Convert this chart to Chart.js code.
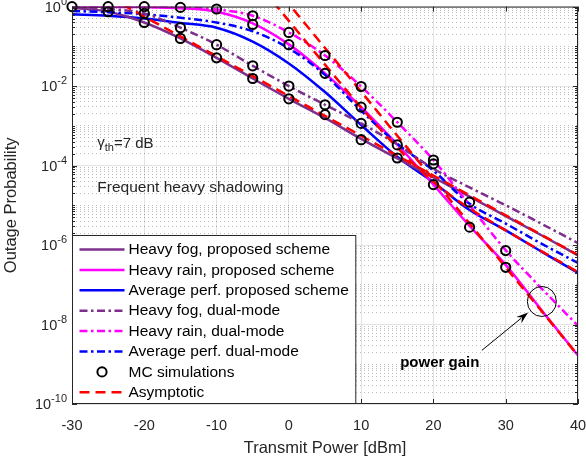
<!DOCTYPE html>
<html><head><meta charset="utf-8">
<script src="https://cdn.jsdelivr.net/npm/chart.js@4.4.1/dist/chart.umd.min.js"></script>
<style>html,body{margin:0;padding:0;background:#fff;}#wrap{width:586px;height:461px;}</style>
</head><body><div id="wrap"><canvas id="c" width="586" height="461"></canvas></div>
<script>
// ---------------- data ----------------
const power = [-30, -25, -20, -15, -10, -5, 0, 5, 10, 15, 20, 25, 30, 35, 40];
const fogProposed  = [0.933, 0.741, 0.398, 0.158, 5.13e-2, 1.55e-2, 4.79e-3, 1.58e-3, 4.68e-4, 1.51e-4, 5.01e-5, 1.66e-5, 5.37e-6, 1.74e-6, 5.50e-7];
const rainProposed = [0.993, 0.986, 0.973, 0.912, 0.741, 0.380, 0.112, 2.09e-2, 2.95e-3, 3.39e-4, 3.31e-5, 3.02e-6, 3.16e-7, 2.24e-8, 1.66e-9];
const avgProposed  = [0.646, 0.589, 0.501, 0.389, 0.295, 0.132, 3.72e-2, 7.08e-3, 1.05e-3, 1.66e-4, 3.80e-5, 7.59e-6, 2.34e-6, 6.76e-7, 2.00e-7];
const fogDual      = [0.955, 0.871, 0.676, 0.295, 0.110, 3.24e-2, 1.00e-2, 3.39e-3, 1.15e-3, 3.39e-4, 8.32e-5, 2.82e-5, 1.00e-5, 3.39e-6, 1.12e-6];
const rainDual     = [0.995, 0.993, 0.986, 0.955, 0.851, 0.589, 0.224, 5.89e-2, 9.77e-3, 1.23e-3, 1.38e-4, 1.00e-5, 7.41e-7, 7.94e-8, 9.33e-9];
const avgDual      = [0.776, 0.724, 0.646, 0.525, 0.398, 0.240, 8.91e-2, 1.91e-2, 2.40e-3, 3.55e-4, 7.41e-5, 1.10e-5, 3.47e-6, 1.07e-6, 3.55e-7];

const mcPower  = [-30, -25, -25, -20, -20, -20, -15, -15, -15, -10, -10, -10, -5, -5, -5, -5, 0, 0, 0, 0, 5, 5, 5, 5, 10, 10, 10, 10, 15, 15, 15, 20, 20, 20, 25, 25, 30, 30];
const mcOutage = [1.0, 1.0, 0.741, 1.0, 0.676, 0.398, 0.955, 0.295, 0.158, 0.871, 0.110, 5.13e-2, 0.589, 0.355, 3.24e-2, 1.55e-2, 0.224, 0.110, 1.00e-2, 4.79e-3, 5.89e-2, 2.09e-2, 3.39e-3, 1.91e-3, 9.77e-3, 2.95e-3, 1.15e-3, 4.47e-4, 1.23e-3, 3.31e-4, 1.55e-4, 1.38e-4, 1.10e-4, 3.31e-5, 1.20e-5, 2.82e-6, 7.24e-7, 2.75e-7];

const fogAsymPower = [-25, -20, -15, -10, -5, 0, 5, 10, 15, 20, 25, 30, 35, 40];
const fogAsym      = [1.78, 0.562, 0.178, 5.62e-2, 1.78e-2, 5.62e-3, 1.78e-3, 5.62e-4, 1.78e-4, 5.62e-5, 1.78e-5, 5.62e-6, 1.78e-6, 5.62e-7];
const rainAsymPower = [-5, 0, 5, 10, 15, 20, 25, 30, 35, 40];
const rainAsym      = [14.8, 1.17, 9.12e-2, 7.24e-3, 5.62e-4, 4.47e-5, 3.47e-6, 2.75e-7, 2.14e-8, 1.66e-9];
const avgAsymPower = [-5, 0, 5, 10, 12.5, 15, 17.5, 20, 22.5, 25, 27.5, 30, 35, 40];
const avgAsym      = [5.5, 0.437, 3.47e-2, 2.88e-3, 8.8e-4, 2.82e-4, 9.9e-5, 3.89e-5, 1.72e-5, 8.32e-6, 4.36e-6, 2.34e-6, 6.92e-7, 2.09e-7];

const xTickValues = [-30, -20, -10, 0, 10, 20, 30, 40];
const yLabelExponents = [0, -2, -4, -6, -8, -10];
const legendLabels = ['Heavy fog, proposed scheme', 'Heavy rain, proposed scheme', 'Average perf. proposed scheme',
  'Heavy fog, dual-mode', 'Heavy rain, dual-mode', 'Average perf. dual-mode', 'MC simulations', 'Asymptotic'];

// ---------------- helpers ----------------
const FONT = "'Liberation Sans', Arial, Helvetica, sans-serif";
Chart.defaults.font.family = FONT;
Chart.defaults.color = '#262626';
const expOf = v => Math.round(Math.log10(v));
const isDecade = v => Math.abs(Math.log10(v) - expOf(v)) < 1e-9;
const isLabeled = v => isDecade(v) && yLabelExponents.includes(expOf(v));
const yTickValues = [];
for (let e = -10; e < 0; e++) for (let m = 1; m <= 9; m++) yTickValues.push(m * Math.pow(10, e));
yTickValues.push(1);
const pts = (xs, ys) => xs.map((v, i) => ({x: v, y: ys[i]}));

const PURPLE = '#7E2F8E', MAGENTA = '#FF00FF', BLUE = '#0000FF', RED = '#FF0000';
const DASHDOT = [8, 3.5, 2.5, 3.5], DASHED = [10, 6];
const LW = 2.5;

const line = (label, data, color, dash, order) => ({
  label, data, borderColor: color, backgroundColor: color, borderWidth: LW,
  borderDash: dash, pointRadius: 0, order, fill: false
});

const datasets = [
  line(legendLabels[0], pts(power, fogProposed), PURPLE, [], 5),
  line(legendLabels[1], pts(power, rainProposed), MAGENTA, [], 5),
  line(legendLabels[2], pts(power, avgProposed), BLUE, [], 5),
  line(legendLabels[3], pts(power, fogDual), PURPLE, DASHDOT, 4),
  line(legendLabels[4], pts(power, rainDual), MAGENTA, DASHDOT, 4),
  line(legendLabels[5], pts(power, avgDual), BLUE, DASHDOT, 4),
  {label: legendLabels[6], data: pts(mcPower, mcOutage), showLine: false, pointRadius: 4.6, pointBorderWidth: 2,
   pointBorderColor: '#000', pointBackgroundColor: 'rgba(0,0,0,0)', borderColor: '#000', order: 0, clip: false},
  line(legendLabels[7], pts(fogAsymPower, fogAsym), RED, DASHED, 1),
  line('', pts(rainAsymPower, rainAsym), RED, DASHED, 1),
  line('', pts(avgAsymPower, avgAsym), RED, DASHED, 1)
];

// ---------------- plugins ----------------
const framePlugin = {
  id: 'frame',
  afterDatasetsDraw(chart) {
    const {ctx, chartArea: a, scales: {x, y}} = chart;
    ctx.save();
    ctx.strokeStyle = '#262626'; ctx.lineWidth = 1; ctx.setLineDash([]);
    ctx.strokeRect(a.left + 0.5, a.top + 0.5, a.right - a.left - 1, a.bottom - a.top - 1);
    ctx.beginPath();
    xTickValues.forEach(v => {
      const px = Math.round(x.getPixelForValue(v)) + 0.5;
      ctx.moveTo(px, a.bottom); ctx.lineTo(px, a.bottom - 5);
      ctx.moveTo(px, a.top); ctx.lineTo(px, a.top + 5);
    });
    yTickValues.forEach(v => {
      const py = Math.round(y.getPixelForValue(v)) + 0.5;
      const len = isLabeled(v) ? 5 : 3;
      ctx.moveTo(a.left, py); ctx.lineTo(a.left + len, py);
      ctx.moveTo(a.right, py); ctx.lineTo(a.right - len, py);
    });
    ctx.stroke();
    // y tick labels: 10 with superscript exponent
    ctx.fillStyle = '#262626'; ctx.textBaseline = 'middle'; ctx.textAlign = 'left';
    yLabelExponents.forEach(e => {
      const py = y.getPixelForValue(Math.pow(10, e));
      ctx.font = '11px ' + FONT;
      const es = String(e);
      const ew = ctx.measureText(es).width;
      ctx.font = '14.5px ' + FONT;
      const bw = ctx.measureText('10').width;
      const xr = a.left - 5;
      ctx.fillText('10', xr - ew - bw, py + 1);
      ctx.font = '11px ' + FONT;
      ctx.fillText(es, xr - ew, py - 5);
    });
    ctx.restore();
  }
};

const legendPlugin = {
  id: 'insideLegend',
  afterDraw(chart) {
    const {ctx, chartArea: a} = chart;
    const items = chart.data.datasets.filter(d => d.label);
    ctx.save();
    ctx.font = '15.5px ' + FONT;
    const textW = Math.max(...items.map(d => ctx.measureText(d.label).width));
    const h = 168, w = 56 + textW + 7;
    const x0 = a.left + 0.5, y0 = a.bottom - h - 0.5;
    ctx.fillStyle = '#fff';
    ctx.fillRect(x0, y0, w, h);
    ctx.strokeStyle = '#262626'; ctx.lineWidth = 1; ctx.setLineDash([]);
    ctx.strokeRect(x0, y0, w, h);
    items.forEach((d, i) => {
      const cy = y0 + 14 + i * 20.4;
      if (d.showLine === false) {
        ctx.setLineDash([]);
        ctx.strokeStyle = '#000'; ctx.lineWidth = 2;
        ctx.beginPath(); ctx.arc(x0 + 29.5, cy, 4.6, 0, Math.PI * 2); ctx.stroke();
      } else {
        ctx.setLineDash(d.borderDash || []);
        ctx.strokeStyle = d.borderColor; ctx.lineWidth = d.borderWidth;
        ctx.beginPath(); ctx.moveTo(x0 + 7, cy); ctx.lineTo(x0 + 52, cy); ctx.stroke();
      }
      ctx.setLineDash([]);
      ctx.fillStyle = '#000'; ctx.textBaseline = 'middle'; ctx.textAlign = 'left';
      ctx.fillText(d.label, x0 + 56, cy + 0.5);
    });
    ctx.restore();
  }
};

const annotPlugin = {
  id: 'annotations',
  afterDraw(chart) {
    const {ctx, scales: {x, y}} = chart;
    ctx.save();
    ctx.fillStyle = '#262626'; ctx.textBaseline = 'middle'; ctx.textAlign = 'left';
    // gamma_th = 7 dB
    const gx = x.getPixelForValue(-26.5), gy = y.getPixelForValue(3.5e-4);
    ctx.font = '15px ' + FONT;
    ctx.fillText('\u03B3', gx, gy - 1);
    const wg = ctx.measureText('\u03B3').width;
    ctx.font = '11px ' + FONT;
    ctx.fillText('th', gx + wg, gy + 4);
    const wt = ctx.measureText('th').width;
    ctx.font = '15px ' + FONT;
    ctx.fillText('=7 dB', gx + wg + wt, gy);
    // Frequent heavy shadowing
    ctx.font = '15.5px ' + FONT;
    ctx.fillText('Frequent heavy shadowing', x.getPixelForValue(-26.5), y.getPixelForValue(2.8e-5));
    // power gain
    ctx.fillStyle = '#000';
    ctx.font = 'bold 15px ' + FONT;
    ctx.fillText('power gain', x.getPixelForValue(15.4), y.getPixelForValue(1.1e-9));
    // ellipse
    const ex = x.getPixelForValue(35.0), ey = y.getPixelForValue(3.8e-8);
    ctx.strokeStyle = '#000'; ctx.lineWidth = 1;
    ctx.beginPath(); ctx.ellipse(ex, ey, 14.5, 15, 0, 0, Math.PI * 2); ctx.stroke();
    // arrow
    const ax0 = x.getPixelForValue(26.7), ay0 = y.getPixelForValue(2.24e-9);
    const ax1 = x.getPixelForValue(33.1), ay1 = y.getPixelForValue(2.0e-8);
    const ang = Math.atan2(ay1 - ay0, ax1 - ax0);
    ctx.beginPath(); ctx.moveTo(ax0, ay0);
    ctx.lineTo(ax1 - 9 * Math.cos(ang), ay1 - 9 * Math.sin(ang)); ctx.stroke();
    ctx.beginPath();
    ctx.moveTo(ax1, ay1);
    ctx.lineTo(ax1 - 12 * Math.cos(ang) + 4 * Math.sin(ang), ay1 - 12 * Math.sin(ang) - 4 * Math.cos(ang));
    ctx.lineTo(ax1 - 8 * Math.cos(ang), ay1 - 8 * Math.sin(ang));
    ctx.lineTo(ax1 - 12 * Math.cos(ang) - 4 * Math.sin(ang), ay1 - 12 * Math.sin(ang) + 4 * Math.cos(ang));
    ctx.closePath(); ctx.fill();
    ctx.restore();
  }
};

// ---------------- chart ----------------
new Chart(document.getElementById('c'), {
  type: 'line',
  data: {datasets},
  options: {
    responsive: false, animation: false, devicePixelRatio: 1,
    layout: {padding: {top: 6, right: 8, left: 0, bottom: 0}},
    plugins: {legend: {display: false}, tooltip: {enabled: false}},
    elements: {line: {cubicInterpolationMode: 'monotone', borderCapStyle: 'butt'}},
    scales: {
      x: {
        type: 'linear', min: -30, max: 40,
        afterBuildTicks: s => { s.ticks = xTickValues.map(v => ({value: v})); },
        ticks: {font: {size: 14.5}, color: '#262626', padding: 13, maxRotation: 0, autoSkip: false},
        grid: {color: '#e3e3e3', drawTicks: false, lineWidth: 1},
        border: {display: false},
        title: {display: true, text: 'Transmit Power [dBm]', font: {size: 16.5}, color: '#262626', padding: {top: 0, bottom: 3}},
        afterFit: s => { s.height = 57; s.paddingLeft = 0; s.paddingRight = 0; }
      },
      y: {
        type: 'logarithmic', min: 1e-10, max: 1,
        afterBuildTicks: s => { s.ticks = yTickValues.map(v => ({value: v})); },
        ticks: {display: false, autoSkip: false},
        grid: {drawTicks: false, lineWidth: 1,
               color: c => isLabeled(c.tick.value) ? '#e3e3e3' : 'rgba(38,38,38,0.3)'},
        border: {display: false, dash: c => isLabeled(c.tick.value) ? [] : [1, 3]},
        title: {display: true, text: 'Outage Probability', font: {size: 16.5}, color: '#262626', padding: {top: 2, bottom: 0}},
        afterFit: s => { s.width = 72; s.paddingTop = 0; s.paddingBottom = 0; }
      }
    }
  },
  plugins: [framePlugin, legendPlugin, annotPlugin]
});
</script></body></html>
